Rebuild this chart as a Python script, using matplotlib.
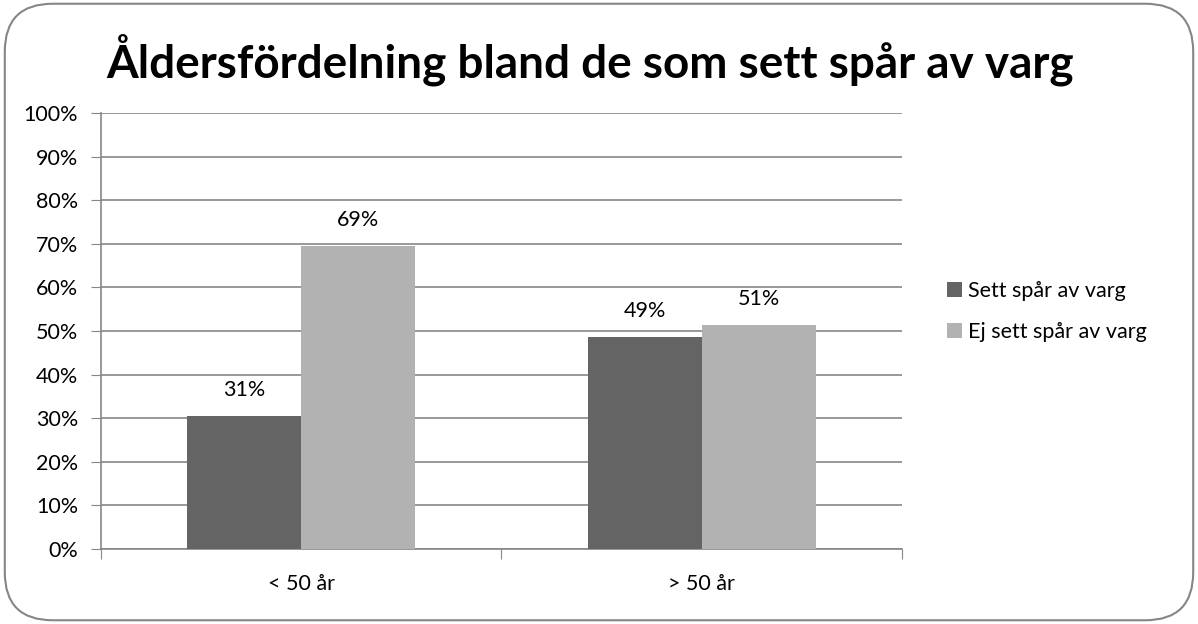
import matplotlib
matplotlib.use("Agg")
import matplotlib.pyplot as plt
import numpy as np
from matplotlib.patches import FancyBboxPatch

# data
categories = ["< 50 år", "> 50 år"]
series_names = ["Sett spår av varg", "Ej sett spår av varg"]
sett = [30.5, 48.6]
ej_sett = [69.5, 51.4]
labels_sett = ["31%", "49%"]
labels_ej = ["69%", "51%"]

plt.rcParams['font.family'] = ['Lato', 'DejaVu Sans']
fs = 15.5

fig = plt.figure(figsize=(11.98, 6.24), dpi=100)
ax = fig.add_axes([0.0843, 0.1202, 0.6686, 0.6987])

x = np.arange(len(categories)) + 0.5
w = 0.285
colors = ["#646464", "#b2b2b2"]
b1 = ax.bar(x - w / 2, sett, w, color=colors[0], label=series_names[0], zorder=3)
b2 = ax.bar(x + w / 2, ej_sett, w, color=colors[1], label=series_names[1], zorder=3)

for bars, labs in [(b1, labels_sett), (b2, labels_ej)]:
    for b, lab in zip(bars, labs):
        ax.text(b.get_x() + b.get_width() / 2, b.get_height() + 6.0, lab,
                ha='center', va='center', fontsize=fs, color='black')

ax.set_xlim(0, 2)
ax.set_ylim(0, 100)
ax.set_yticks(np.arange(0, 101, 10))
ax.set_yticklabels(["%d%%" % v for v in range(0, 101, 10)], fontsize=fs)
ax.set_xticks([0, 1, 2])
ax.set_xticklabels([])
ax.set_xticks(x, minor=True)
ax.set_xticklabels(categories, minor=True, fontsize=fs)
ax.tick_params(axis='x', which='minor', length=0, pad=18)
ax.tick_params(axis='x', which='major', length=7, color='#868686', direction='out')
ax.tick_params(axis='y', length=7, color='#868686', direction='out', pad=9.5)
ax.grid(axis='y', color='#868686', linewidth=1.2, zorder=0)
for s in ['top', 'right']:
    ax.spines[s].set_visible(False)
for s in ['left', 'bottom']:
    ax.spines[s].set_color('#868686')
    ax.spines[s].set_linewidth(1.2)

fig.text(0.4925, 0.905, "Åldersfördelning bland de som sett spår av varg",
         ha='center', va='center', fontsize=33, fontweight='bold')

leg = ax.legend(loc='center left', bbox_to_anchor=(1.045, 0.545), frameon=False,
                fontsize=fs, handlelength=0.7, handleheight=0.7, handletextpad=0.3,
                labelspacing=1.0, borderaxespad=0)

border = FancyBboxPatch((0.004, 0.006), 0.992, 0.988,
                        boxstyle="round,pad=0,rounding_size=0.04",
                        transform=fig.transFigure, facecolor='none',
                        edgecolor='#868686', linewidth=1.5, mutation_aspect=1198 / 624)
fig.patches.append(border)

plt.savefig("out.png", dpi=100)
